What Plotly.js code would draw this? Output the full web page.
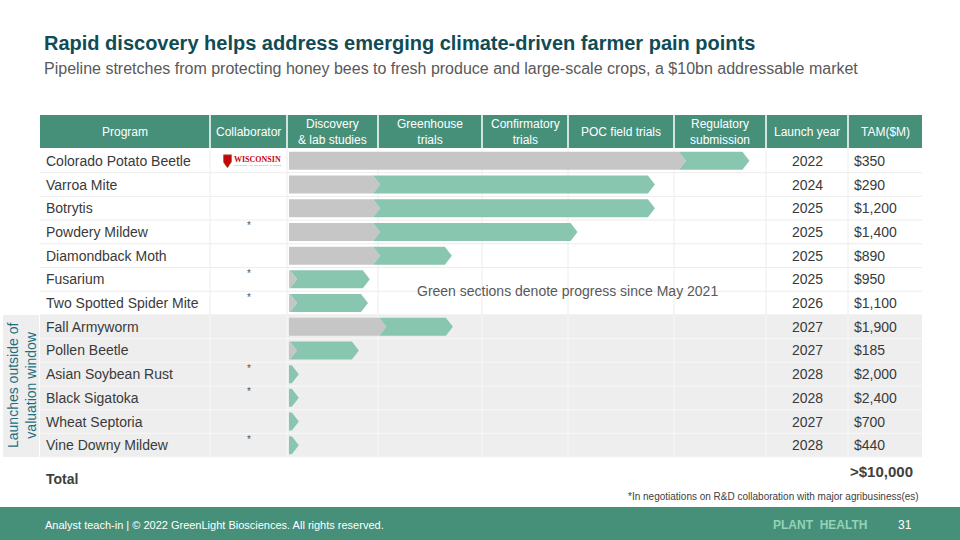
<!DOCTYPE html>
<html><head><meta charset="utf-8">
<script src="https://cdn.plot.ly/plotly-3.0.1.min.js"></script>
<style>html,body{margin:0;padding:0;background:#fff;}#chart{width:960px;height:540px;}</style>
</head><body><div id="chart"></div>
<script>
// ---------- DATA ----------
const programs = ["Colorado Potato Beetle","Varroa Mite","Botrytis","Powdery Mildew","Diamondback Moth","Fusarium","Two Spotted Spider Mite","Fall Armyworm","Pollen Beetle","Asian Soybean Rust","Black Sigatoka","Wheat Septoria","Vine Downy Mildew"];
const collaborators = ["WISCONSIN","","","*","","*","*","","","*","*","","*"];
const launchYears = ["2022","2024","2025","2025","2025","2025","2026","2027","2027","2028","2028","2027","2028"];
const tamLabels = ["$350","$290","$1,200","$1,400","$890","$950","$1,100","$1,900","$185","$2,000","$2,400","$700","$440"];
const stages = ["Discovery<br>& lab studies","Greenhouse<br>trials","Confirmatory<br>trials","POC field trials","Regulatory<br>submission"];
const columnHeaders = ["Program","Collaborator"].concat(stages).concat(["Launch year","TAM($M)"]);
// progress in stage units (0 = start of Discovery ... 5 = end of Regulatory submission)
const progressMay2021 = [4.13,1.02,1.02,1.02,1.02,0.11,0.11,1.08,0.11,0,0,0,0];
const progressNow     = [4.82,3.82,3.82,3.09,1.71,0.91,0.89,1.72,0.79,0.13,0.13,0.13,0.13];
const outsideWindow   = [false,false,false,false,false,false,false,true,true,true,true,true,true];
const totalTam = ">$10,000";

// ---------- LAYOUT CONSTANTS ----------
const colEdges = [40,210,287,378,482,568,674,766,848,922];
const stageEdges = colEdges.slice(2,8);
const headerTop = 115, headerBot = 148, bodyTop = 149, rowH = 23.7;
const barStart = 289, barHalf = 9, tip = 7;
const GREEN_HDR = "#46907a", BAR_GRAY = "#c6c6c6", BAR_GREEN = "#88c6b0";
const FONT = "Liberation Sans, Arial, sans-serif";

function stageToX(s){
  const i = Math.min(Math.floor(s), stageEdges.length-2);
  const f = s - i;
  return stageEdges[i] + f*(stageEdges[i+1]-stageEdges[i]);
}
const rowTop = i => bodyTop + i*rowH;
const rowMid = i => bodyTop + (i+0.5)*rowH;

const shapes = [];
const ann = [];
function A(o){ ann.push(Object.assign({xref:'x',yref:'y',showarrow:false},o)); }

// header
shapes.push({type:'rect',xref:'x',yref:'y',x0:colEdges[0],x1:colEdges[9],y0:headerTop,y1:headerBot,fillcolor:GREEN_HDR,line:{width:0},layer:'below'});
for(let k=1;k<colEdges.length-1;k++){
  shapes.push({type:'line',xref:'x',yref:'y',x0:colEdges[k],x1:colEdges[k],y0:headerTop,y1:headerBot,line:{color:'#ffffff',width:1.5}});
}
columnHeaders.forEach((h,k)=>{
  A({x:(colEdges[k]+colEdges[k+1])/2,y:(headerTop+headerBot)/2,text:h,xanchor:'center',yanchor:'middle',
     font:{family:FONT,size:12,color:'#ffffff'}});
});

// body backgrounds
const firstOut = outsideWindow.indexOf(true);
const lastOut = outsideWindow.lastIndexOf(true);
shapes.push({type:'rect',xref:'x',yref:'y',x0:colEdges[0],x1:colEdges[9],y0:rowTop(firstOut),y1:rowTop(lastOut+1),fillcolor:'#eeeeee',line:{width:0},layer:'below'});
shapes.push({type:'rect',xref:'x',yref:'y',x0:3,x1:colEdges[0]-1,y0:rowTop(firstOut),y1:rowTop(lastOut+1),fillcolor:'#eeeeee',line:{width:0},layer:'below'});

// grid
programs.forEach((p,i)=>{
  const c = outsideWindow[i] ? '#f8f8f8' : '#ececec';
  shapes.push({type:'line',xref:'x',yref:'y',x0:colEdges[0],x1:colEdges[9],y0:rowTop(i+1),y1:rowTop(i+1),line:{color:c,width:1},layer:'below'});
  for(let k=1;k<colEdges.length-1;k++){
    shapes.push({type:'line',xref:'x',yref:'y',x0:colEdges[k],x1:colEdges[k],y0:rowTop(i),y1:rowTop(i+1),line:{color:c,width:1},layer:'below'});
  }
});

// bars (chevrons)
programs.forEach((p,i)=>{
  const ym = rowMid(i), yt = ym-barHalf, yb = ym+barHalf;
  const xg = progressMay2021[i] > 0 ? stageToX(progressMay2021[i]) : null;
  const xe = stageToX(progressNow[i]);
  if(xg !== null){
    shapes.push({type:'path',xref:'x',yref:'y',
      path:`M ${barStart} ${yt} L ${xg-tip} ${yt} L ${xg} ${ym} L ${xg-tip} ${yb} L ${barStart} ${yb} Z`,
      fillcolor:BAR_GRAY,line:{width:0}});
    shapes.push({type:'path',xref:'x',yref:'y',
      path:`M ${xg-tip} ${yt} L ${xe-tip} ${yt} L ${xe} ${ym} L ${xe-tip} ${yb} L ${xg-tip} ${yb} L ${xg} ${ym} Z`,
      fillcolor:BAR_GREEN,line:{width:0}});
  } else {
    shapes.push({type:'path',xref:'x',yref:'y',
      path:`M ${barStart} ${yt} L ${xe-tip} ${yt} L ${xe} ${ym} L ${xe-tip} ${yb} L ${barStart} ${yb} Z`,
      fillcolor:BAR_GREEN,line:{width:0}});
  }
});

// row texts
programs.forEach((p,i)=>{
  const ym = rowMid(i);
  A({x:44,y:ym,text:p,xanchor:'left',yanchor:'middle',font:{family:FONT,size:14,color:'#3a3a3a'}});
  A({x:(colEdges[7]+colEdges[8])/2,y:ym,text:launchYears[i],xanchor:'center',yanchor:'middle',font:{family:FONT,size:14,color:'#3a3a3a'}});
  A({x:colEdges[8]+4,y:ym,text:tamLabels[i],xanchor:'left',yanchor:'middle',font:{family:FONT,size:14,color:'#3a3a3a'}});
  const cx = (colEdges[1]+colEdges[2])/2;
  if(collaborators[i]==='*'){
    A({x:cx,y:ym-6,text:'*',xanchor:'center',yanchor:'middle',font:{family:FONT,size:10,color:'#555555'}});
  } else if(collaborators[i]){
    // crest
    shapes.push({type:'path',xref:'x',yref:'y',
      path:`M ${cx-25} ${ym-6} L ${cx-17} ${ym-6} L ${cx-17} ${ym+1} Q ${cx-21} ${ym+7} ${cx-21} ${ym+7} Q ${cx-25} ${ym+2} ${cx-25} ${ym+1} Z`,
      fillcolor:'#c5050c',line:{color:'#8a6d1e',width:0.6}});
    A({x:cx-17,y:ym-1,text:'<b>'+collaborators[i]+'</b>',xanchor:'left',yanchor:'middle',font:{family:'Liberation Serif, serif',size:8,color:'#c5050c'}});
    A({x:cx-17,y:ym+5,text:'UNIVERSITY OF WISCONSIN–MADISON',xanchor:'left',yanchor:'middle',font:{family:FONT,size:2.5,color:'#999999'}});
  }
});

// note
A({x:567,y:291,text:'Green sections denote progress since May 2021',xanchor:'center',yanchor:'middle',font:{family:FONT,size:14,color:'#595959'}});

// vertical label
A({x:22,y:(rowTop(firstOut)+rowTop(lastOut+1))/2,text:'Launches outside of<br>valuation window',textangle:-90,xanchor:'center',yanchor:'middle',
   font:{family:FONT,size:14,color:'#1f6e80'}});

// titles
A({x:42,y:43,text:'<b>Rapid discovery helps address emerging climate-driven farmer pain points</b>',xanchor:'left',yanchor:'middle',font:{family:FONT,size:20,color:'#0f4c55'}});
A({x:42,y:68,text:'Pipeline stretches from protecting honey bees to fresh produce and large-scale crops, a $10bn addressable market',xanchor:'left',yanchor:'middle',font:{family:FONT,size:16,color:'#595959'}});

// total
A({x:44,y:479,text:'<b>Total</b>',xanchor:'left',yanchor:'middle',font:{family:FONT,size:14,color:'#404040'}});
A({x:915,y:471,text:'<b>'+totalTam+'</b>',xanchor:'right',yanchor:'middle',font:{family:FONT,size:15,color:'#404040'}});
A({x:921,y:496,text:'*In negotiations on R&D collaboration with major agribusiness(es)',xanchor:'right',yanchor:'middle',font:{family:FONT,size:10,color:'#404040'}});

// footer
shapes.push({type:'rect',xref:'x',yref:'y',x0:0,x1:960,y0:507,y1:540,fillcolor:GREEN_HDR,line:{width:0}});
A({x:43,y:525,text:'Analyst teach-in | © 2022 GreenLight Biosciences. All rights reserved.',xanchor:'left',yanchor:'middle',font:{family:FONT,size:11,color:'#ffffff'}});
A({x:820,y:525,text:'<b>PLANT  HEALTH</b>',xanchor:'center',yanchor:'middle',font:{family:FONT,size:12,color:'#93d3b8'}});
A({x:905,y:525,text:'31',xanchor:'center',yanchor:'middle',font:{family:FONT,size:12,color:'#ffffff'}});

const layout = {
  width:960,height:540,margin:{l:0,r:0,t:0,b:0},
  paper_bgcolor:'#ffffff',plot_bgcolor:'#ffffff',showlegend:false,
  xaxis:{range:[0,960],visible:false,fixedrange:true},
  yaxis:{range:[540,0],visible:false,fixedrange:true},
  shapes:shapes,annotations:ann
};
Plotly.newPlot('chart',[{x:[0],y:[0],mode:'markers',marker:{opacity:0},hoverinfo:'skip',type:'scatter'}],layout,{staticPlot:true,displayModeBar:false});
</script></body></html>
